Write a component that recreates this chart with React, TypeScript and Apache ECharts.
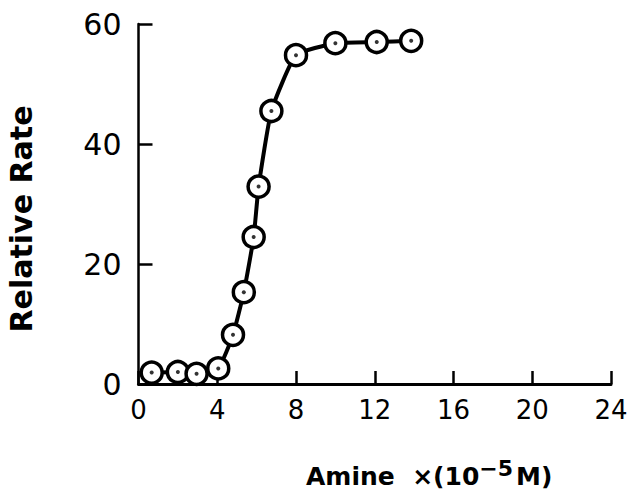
import React, { useEffect, useRef } from "react";
import * as echarts from "echarts";

const amine = [0.67, 2.0, 2.95, 4.05, 4.8, 5.35, 5.85, 6.1, 6.75, 8.0, 10.0, 12.1, 13.85];
const rate = [1.9, 2.0, 1.7, 2.6, 8.2, 15.3, 24.5, 32.9, 45.5, 54.8, 56.8, 57.0, 57.2];
const xTicks = [0, 4, 8, 12, 16, 20, 24];
const yTicks = [0, 20, 40, 60];
const xTitle = "Amine";
const yTitle = "Relative Rate";

export default function App() {
  const ref = useRef<HTMLDivElement>(null);
  useEffect(() => {
    const chart = echarts.init(ref.current!, null, { renderer: "svg" });
    const pts = amine.map((x, i) => [x, rate[i]]);
    const font = "DejaVu Sans";
    chart.setOption({
      animation: false,
      backgroundColor: "#fff",
      grid: { left: 138.5, right: 23, top: 24, bottom: 105, containLabel: false },
      xAxis: {
        type: "value",
        min: xTicks[0],
        max: xTicks[xTicks.length - 1],
        interval: 4,
        axisLine: { show: true, lineStyle: { color: "#000", width: 3 } },
        axisTick: { show: true, inside: true, length: 13, lineStyle: { color: "#000", width: 2.5 } },
        axisLabel: { color: "#000", fontSize: 26, fontFamily: font, margin: 13 },
        splitLine: { show: false },
      },
      yAxis: {
        type: "value",
        min: yTicks[0],
        max: yTicks[yTicks.length - 1],
        interval: 20,
        axisLine: { show: true, lineStyle: { color: "#000", width: 2.5 } },
        axisTick: { show: true, inside: true, length: 14, lineStyle: { color: "#000", width: 2.5 } },
        axisLabel: { color: "#000", fontSize: 30, fontFamily: font, margin: 17 },
        splitLine: { show: false },
      },
      series: [
        {
          type: "line",
          data: pts,
          smooth: 0.15,
          lineStyle: { color: "#000", width: 4 },
          symbol: "circle",
          symbolSize: 21,
          itemStyle: { color: "#fff", borderColor: "#000", borderWidth: 3.5 },
          z: 2,
        },
        {
          type: "scatter",
          data: pts,
          symbol: "circle",
          symbolSize: 4,
          itemStyle: { color: "#000" },
          z: 3,
        },
      ],
      graphic: [
        {
          type: "text",
          x: 21,
          y: 219,
          rotation: Math.PI / 2,
          style: {
            text: yTitle,
            font: `bold 30px "${font}"`,
            fill: "#000",
            textAlign: "center",
            textVerticalAlign: "middle",
          },
        },
        {
          type: "text",
          x: 306,
          y: 476,
          style: {
            text: `{a|${xTitle}  ×(10}{s|−5}{a|M)}`,
            textVerticalAlign: "middle",
            fill: "#000",
            rich: {
              a: { font: `bold 25px "${font}"`, fill: "#000" },
              s: { font: `bold 22px "${font}"`, fill: "#000", verticalAlign: "top", padding: [0, 3, 16, 0] },
            },
          },
        },
      ],
    });
    return () => chart.dispose();
  }, []);
  return (
    <div
      ref={ref}
      style={{ position: "fixed", left: 0, top: 0, width: 634, height: 489, background: "#fff" }}
    />
  );
}
